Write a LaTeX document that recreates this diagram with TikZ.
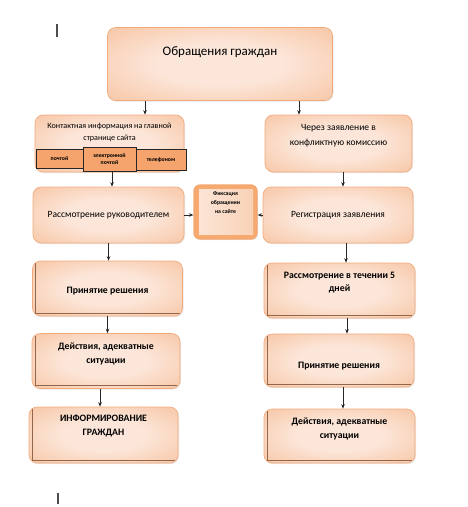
\documentclass[tikz,border=0pt]{standalone}
\usepackage{fontspec}
\setmainfont{Carlito}
\usetikzlibrary{shadows,arrows.meta,positioning}
\definecolor{peachdark}{HTML}{F4B183}
\definecolor{peachlight}{HTML}{FCE6D9}
\definecolor{peachline}{HTML}{F2AA7C}
\definecolor{tabfill}{HTML}{F4A46C}
\pgfdeclareradialshading{peachglow}{\pgfpoint{0bp}{0bp}}{color(0bp)=(peachlight); color(14bp)=(peachlight); color(38bp)=(peachdark!65!peachlight); color(50bp)=(peachdark); color(100bp)=(peachdark)}
\tikzstyle{box}=[rectangle,draw=peachline,line width=0.6pt,rounded corners=8pt,shading=peachglow,drop shadow={opacity=0.18,shadow xshift=1pt,shadow yshift=-1.2pt}]
\tikzstyle{edged}=[path picture={\draw[sharp corners,peachline!60!black,line width=0.35pt] ([xshift=3pt,yshift=-2pt]path picture bounding box.north west) -- ([xshift=3pt,yshift=3pt]path picture bounding box.south west) -- ([xshift=-3pt,yshift=3pt]path picture bounding box.south east);}]
\tikzstyle{fix}=[rectangle,draw=peachline!90!orange,line width=1.2pt,rounded corners=6pt,fill=peachdark!85!orange,drop shadow={opacity=0.18,shadow xshift=1pt,shadow yshift=-1.2pt},path picture={\shade[sharp corners,left color=peachlight,right color=peachdark!60] ([xshift=5pt,yshift=-4pt]path picture bounding box.north west) rectangle ([xshift=-4pt,yshift=5pt]path picture bounding box.south east);}]
\tikzstyle{tab}=[rectangle,draw=black!85,line width=0.8pt,fill=tabfill,align=center,inner sep=1pt,font=\fontsize{5.8}{7.5}\selectfont\bfseries,drop shadow={opacity=0.25,shadow xshift=1pt,shadow yshift=-1pt}]
\tikzstyle{ttl}=[align=center,font=\fontsize{13}{15}\selectfont]
\tikzstyle{mid}=[align=center,font=\fontsize{9.5}{15}\selectfont]
\tikzstyle{sm}=[align=center,font=\fontsize{8.1}{12}\selectfont]
\tikzstyle{bld}=[align=center,font=\fontsize{9.8}{13.5}\selectfont\bfseries]
\tikzstyle{tiny}=[align=center,font=\fontsize{5.8}{9}\selectfont\bfseries]
\tikzstyle{arr}=[-{Stealth[length=4.5pt,width=3.5pt]},line width=0.7pt,black!85]
\tikzstyle{cursor}=[line width=1.3pt,black!70]

\begin{document}
\begin{tikzpicture}[x=1pt,y=-1pt]
\useasboundingbox (0,0) rectangle (467,507);
\node[box,minimum width=225,minimum height=73,label={[ttl,yshift=12]center:Обращения граждан}] (G) at (220,64) {};
\node[box,minimum width=149,minimum height=57,label={[sm,yshift=11.5]center:Контактная информация на главной\\странице сайта}] (K) at (109.5,143.5) {};
\node[tab,minimum width=47,minimum height=19] (post) at (59.5,158.5) {почтой};
\node[tab,minimum width=50,minimum height=21] (phone) at (161,159.5) {телефоном};
\node[tab,minimum width=53,minimum height=24] (email) at (109.5,159) {электронной\\почтой};
\node[box,minimum width=147,minimum height=57,label={[mid,yshift=8]center:Через заявление в\\конфликтную комиссию}] (Z) at (338.5,143.5) {};
\node[box,minimum width=151,minimum height=56,label={[mid]center:Рассмотрение руководителем}] (R) at (108.5,215) {};
\node[fix,minimum width=63,minimum height=54,label={[tiny,yshift=9]center:Фиксация\\обращении\\на сайте}] (F) at (225.5,212) {};
\node[box,minimum width=150,minimum height=56,label={[mid]center:Регистрация заявления}] (Reg) at (338,215) {};
% left column
\node[box,edged,minimum width=150,minimum height=55,label={[bld,yshift=-3]center:Принятие решения}] (P1) at (107.5,288.5) {};
\node[box,edged,minimum width=148,minimum height=55,label={[bld,yshift=7]center:Действия, адекватные\\ситуации}] (D1) at (106,361) {};
\node[box,edged,minimum width=149,minimum height=56,label={[bld,yshift=9]center:ИНФОРМИРОВАНИЕ\\ГРАЖДАН}] (I) at (103.5,435) {};
% right column
\node[box,edged,minimum width=151,minimum height=55,label={[bld,yshift=8]center:Рассмотрение в течении 5\\дней}] (R5) at (339.5,290.5) {};
\node[box,edged,minimum width=150,minimum height=53,label={[bld,yshift=-6]center:Принятие решения}] (P2) at (339,360.5) {};
\node[box,edged,minimum width=151,minimum height=54,label={[bld,yshift=7]center:Действия, адекватные\\ситуации}] (D2) at (339.5,436) {};
% connectors
\draw[arr] ([xshift=-75pt]G.south) -- ([xshift=35.5pt]K.north);
\draw[arr] ([xshift=79pt]G.south) -- ([xshift=-39.5pt]Z.north);
\draw[arr] ([xshift=2.5pt]email.south) -- ([xshift=3.5pt]R.north);
\draw[arr] (R.east) -- (R.east -| F.west);
\draw[arr] (Reg.west) -- (Reg.west -| F.east);
\draw[arr] ([xshift=4.5pt]Z.south) -- ([xshift=5pt]Reg.north);
\draw[arr] (R.south) -- (R.south |- P1.north);
\draw[arr] ([xshift=8pt]Reg.south) -- ([xshift=8pt]Reg.south |- R5.north);
\draw[arr] (P1.south) -- (P1.south |- D1.north);
\draw[arr] ([xshift=-6pt]D1.south) -- ([xshift=-6pt]D1.south |- I.north);
\draw[arr] ([xshift=7.5pt]R5.south) -- ([xshift=7.5pt]R5.south |- P2.north);
\draw[arr] ([xshift=4pt]P2.south) -- ([xshift=4pt]P2.south |- D2.north);
% page marks
\draw[cursor] (57,24) -- (57,37);
\draw[cursor] (58,493) -- (58,504);
\end{tikzpicture}
\end{document}
